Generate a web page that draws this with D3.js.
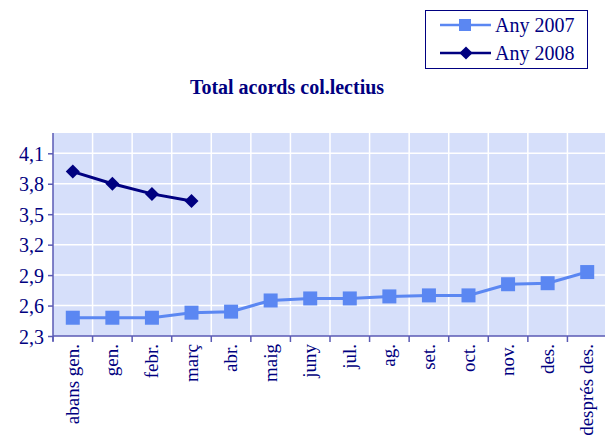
<!DOCTYPE html>
<html>
<head>
<meta charset="utf-8">
<script src="https://cdn.jsdelivr.net/npm/d3@7/dist/d3.min.js"></script>
<style>
body { margin: 0; background: #fff; }
text { font-family: "Liberation Serif", "DejaVu Serif", serif; }
</style>
</head>
<body>
<svg id="chart" width="605" height="440"></svg>
<script>
// dades
var categories = ["abans gen.", "gen.", "febr.", "març", "abr.", "maig", "juny", "jul.", "ag.", "set.", "oct.", "nov.", "des.", "després des."];
var any2007 = [2.48, 2.48, 2.48, 2.53, 2.54, 2.65, 2.67, 2.67, 2.69, 2.70, 2.70, 2.81, 2.82, 2.93];
var any2008 = [3.92, 3.80, 3.70, 3.63];
var yTicks = [2.3, 2.6, 2.9, 3.2, 3.5, 3.8, 4.1];
var seriesNames = ["Any 2007", "Any 2008"];

var col2007 = "#5b87f2";
var col2008 = "#000080";
var navy = "#000080";

//plot area
var plot_left = 53, plot_right = 607, plot_top = 133, plot_bottom = 336;

var svg = d3.select("#chart");

var x = d3.scaleBand().domain(categories).range([plot_left, plot_right]);
var y = d3.scaleLinear().domain([2.3, 4.1]).range([plot_bottom, 153.3]);

svg.append("rect").attr("x", plot_left).attr("y", plot_top)
    .attr("width", plot_right - plot_left).attr("height", plot_bottom - plot_top)
    .style("fill", "#d6dffa");

//grid
svg.append("g").selectAll("line").data(yTicks.slice(1)).enter().append("line")
    .attr("x1", plot_left).attr("x2", plot_right)
    .attr("y1", d => y(d)).attr("y2", d => y(d))
    .style("stroke", "#fff").style("stroke-width", 1.5);

svg.append("g").selectAll("line").data(categories.slice(1)).enter().append("line")
    .attr("x1", d => x(d)).attr("x2", d => x(d))
    .attr("y1", plot_top).attr("y2", plot_bottom)
    .style("stroke", "#fff").style("stroke-width", 1.5);

//axes
var yAxis = d3.axisLeft(y).tickValues(yTicks).tickSize(5).tickFormat(d => d3.format(".1f")(d).replace(".", ","));
var gy = svg.append("g").attr("transform", `translate(${plot_left},0)`).call(yAxis);
gy.select(".domain").remove();
gy.append("line").attr("x1", 0).attr("x2", 0).attr("y1", plot_top).attr("y2", plot_bottom + 5)
    .style("stroke", "#5a5ab4").style("stroke-width", 1.5);
gy.selectAll(".tick line").style("stroke", "#5a5ab4").style("stroke-width", 1.5);
gy.selectAll(".tick text").attr("x", -9).attr("dy", "0.35em")
    .style("font-size", "20px").style("fill", navy);

var xAxis = d3.axisBottom(x).tickSize(0).tickFormat("");
var gx = svg.append("g").attr("transform", `translate(0,${plot_bottom})`).call(xAxis);
gx.select(".domain").remove();
gx.append("line").attr("x1", plot_left).attr("x2", plot_right).attr("y1", 0).attr("y2", 0)
    .style("stroke", "#5a5ab4").style("stroke-width", 1.5);
gx.selectAll(".xt").data(categories).enter().append("line").attr("class", "xt")
    .attr("x1", d => x(d)).attr("x2", d => x(d)).attr("y1", 0).attr("y2", 6)
    .style("stroke", "#5a5ab4").style("stroke-width", 1.5);
gx.selectAll(".xl").data(categories).enter().append("text").attr("class", "xl")
    .attr("transform", d => `translate(${x(d) + x.bandwidth() / 2 + 6},8) rotate(-90)`)
    .attr("text-anchor", "end")
    .style("font-size", "19px").style("fill", navy)
    .text(d => d);

//line series
var line = d3.line().x((d, i) => x(categories[i]) + x.bandwidth() / 2).y(d => y(d));

svg.append("path").datum(any2007).attr("d", line)
    .style("fill", "none").style("stroke", col2007).style("stroke-width", 3);
svg.append("g").selectAll("rect").data(any2007).enter().append("rect")
    .attr("x", (d, i) => x(categories[i]) + x.bandwidth() / 2 - 7)
    .attr("y", d => y(d) - 7)
    .attr("width", 14).attr("height", 14)
    .style("fill", col2007);

svg.append("path").datum(any2008).attr("d", line)
    .style("fill", "none").style("stroke", col2008).style("stroke-width", 3);
svg.append("g").selectAll("path").data(any2008).enter().append("path")
    .attr("d", d3.symbol().type(d3.symbolDiamond2).size(125))
    .attr("transform", (d, i) => `translate(${x(categories[i]) + x.bandwidth() / 2},${y(d)})`)
    .style("fill", col2008);

//title
svg.append("text").attr("x", 287).attr("y", 94).attr("text-anchor", "middle")
    .style("font-size", "20px").style("font-weight", "bold").style("fill", navy)
    .text("Total acords col.lectius");

//legend
var lg = svg.append("g");
lg.append("rect").attr("x", 425.5).attr("y", 10.5).attr("width", 162).attr("height", 58)
    .style("fill", "#fff").style("stroke", navy).style("stroke-width", 1);
var rows = lg.selectAll("g").data(seriesNames).enter().append("g")
    .attr("transform", (d, i) => `translate(0,${25 + i * 28})`);
rows.append("line").attr("x1", 440).attr("x2", 491).attr("y1", 0).attr("y2", 0)
    .style("stroke", (d, i) => i == 0 ? col2007 : col2008).style("stroke-width", 2.5);
rows.each(function (d, i) {
    var g = d3.select(this);
    if (i == 0) {
        g.append("rect").attr("x", 459).attr("y", -6).attr("width", 12).attr("height", 12).style("fill", col2007);
    } else {
        g.append("path").attr("d", d3.symbol().type(d3.symbolDiamond2).size(110))
            .attr("transform", "translate(466,0)").style("fill", col2008);
    }
});
rows.append("text").attr("x", 495).attr("y", 0).attr("dy", "0.35em")
    .style("font-size", "20px").style("fill", navy).text(d => d);
</script>
</body>
</html>
